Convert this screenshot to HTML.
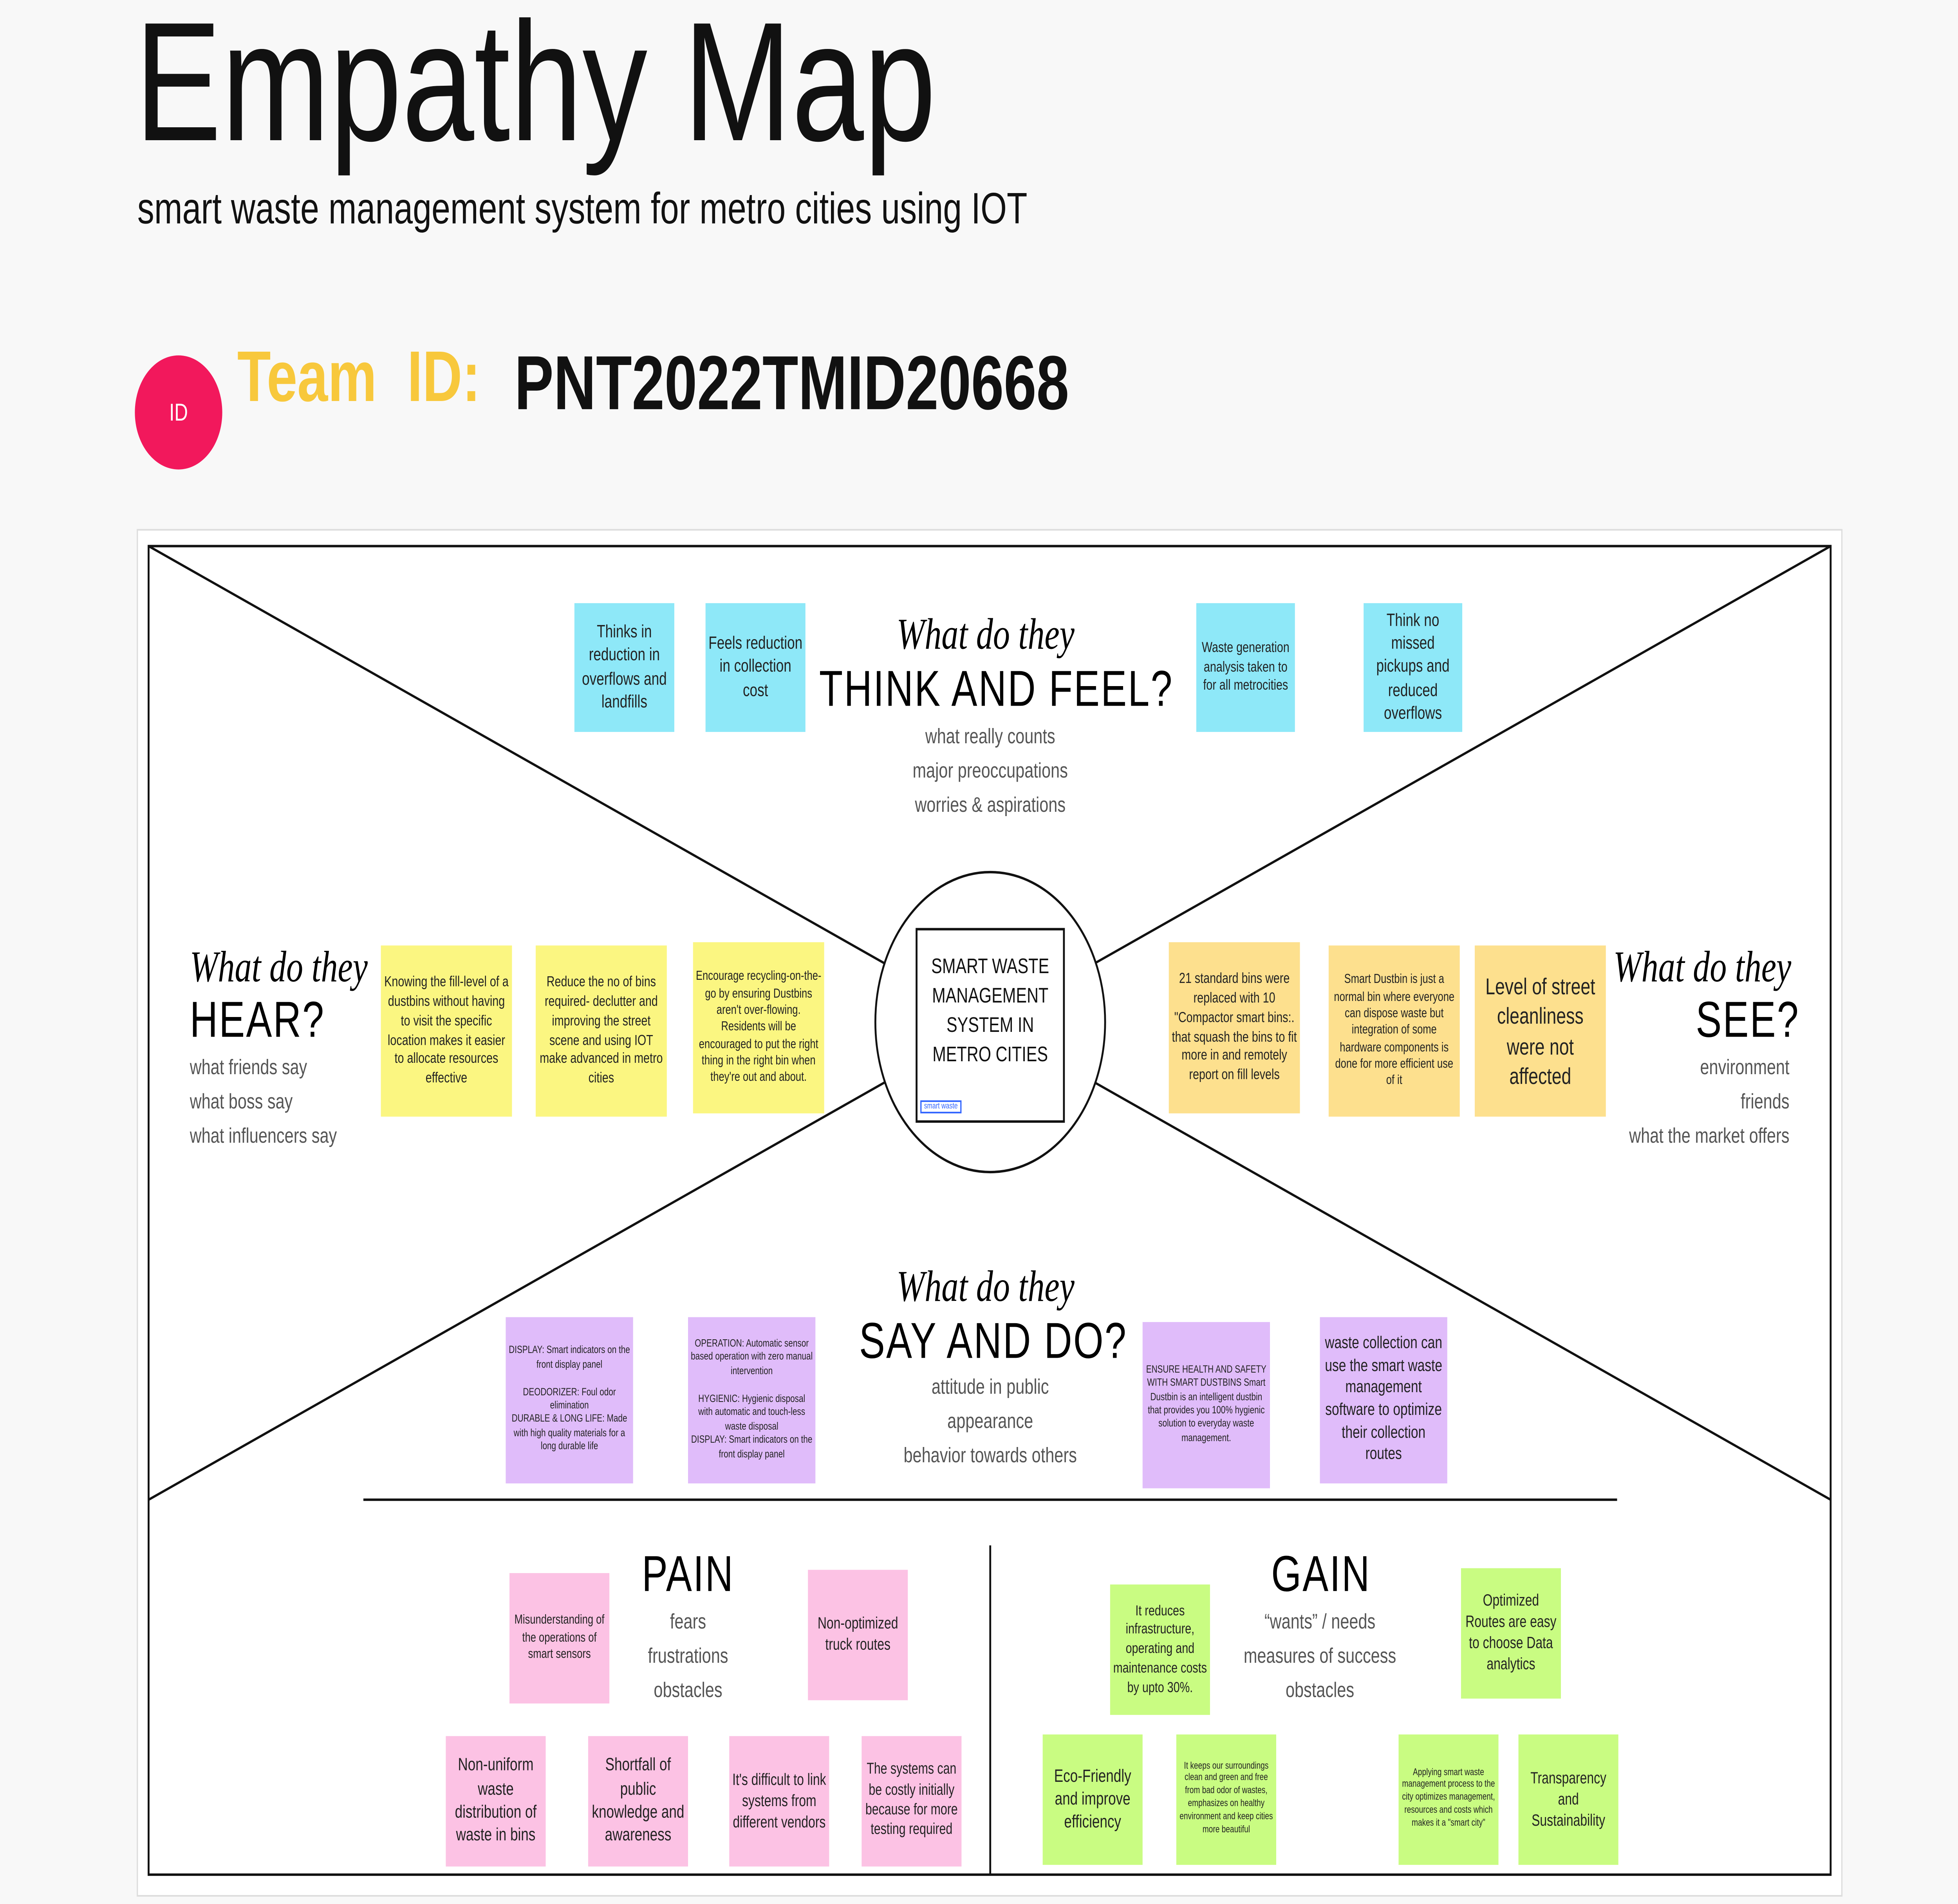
<!DOCTYPE html>
<html><head><meta charset="utf-8"><style>
html,body{margin:0;padding:0;width:100vw;height:100vh;overflow:hidden;background:#f8f8f8}
svg.root{position:absolute;left:0;top:0;display:block;width:100vw;height:100vh}
#s{position:relative;width:1568px;height:1168px;font-family:"Liberation Sans",sans-serif}
.a{position:absolute}
.n{position:absolute;display:flex;align-items:center;justify-content:center;text-align:center;color:#222;line-height:1.3;box-sizing:border-box;padding:2px}
.c{background:#8ee8f8}.y{background:#fbf681}.o{background:#fde08e}.p{background:#e0bcfa}.k{background:#fcc2e4}.g{background:#c9fc82}
.sc{font-family:"Liberation Serif",serif;font-style:italic;font-size:27px}
.h{font-size:31px;letter-spacing:1px}
.sub{color:#555;font-size:13px;line-height:21px}
</style></head><body>
<svg class="root" viewBox="0 0 1568 1168" preserveAspectRatio="none" xmlns="http://www.w3.org/2000/svg">
<rect x="0" y="0" width="1568" height="1168" fill="#f8f8f8"/>
<rect x="110" y="325" width="1365" height="838" fill="#fff" stroke="#ddd" stroke-width="1"/>
<rect x="119" y="335" width="1347" height="815" fill="none" stroke="#111" stroke-width="1.5"/>
<line x1="119" y1="335" x2="1466" y2="920" stroke="#111" stroke-width="1.5"/>
<line x1="1466" y1="335" x2="119" y2="920" stroke="#111" stroke-width="1.5"/>
<line x1="291" y1="920" x2="1295" y2="920" stroke="#111" stroke-width="1.5"/>
<line x1="793" y1="948" x2="793" y2="1150" stroke="#111" stroke-width="1.5"/>
<circle cx="793" cy="627" r="92" fill="#fff" stroke="#111" stroke-width="1.5"/>
<rect x="734" y="570" width="118" height="118" fill="#fff" stroke="#111" stroke-width="1.5"/>
<circle cx="143" cy="253" r="35" fill="#f2185c"/>
<foreignObject x="0" y="0" width="1568" height="1168">
<div xmlns="http://www.w3.org/1999/xhtml" id="s">
<div class="a" style="left:108px;top:-8px;font-size:104px;color:#111">Empathy Map</div>
<div class="a" style="left:110px;top:113px;font-size:27px;color:#111">smart waste management system for metro cities using IOT</div>
<div class="a" style="left:108px;top:218px;width:70px;height:70px;color:#fff;font-size:15px;display:flex;align-items:center;justify-content:center">ID</div>
<div class="a" style="left:190px;top:207px;font-size:44px;font-weight:bold;color:#f8c83c">Team&nbsp; ID:</div>
<div class="a" style="left:412px;top:207px;font-size:47px;font-weight:bold;color:#111">PNT2022TMID20668</div>

<div class="a" style="left:734px;top:584px;width:118px;text-align:center;font-size:13px;line-height:18px;color:#111">SMART WASTE MANAGEMENT SYSTEM IN METRO CITIES</div>
<div class="a" style="left:737px;top:675px;font-size:5px;border:1px solid #36f;color:#36f;padding:0 2px">smart waste</div>

<div class="a sc" style="left:718px;top:374px">What do they</div>
<div class="a h" style="left:656px;top:405px">THINK AND FEEL?</div>
<div class="a sub" style="left:693px;top:441px;width:200px;text-align:center">what really counts<br/>major preoccupations<br/>worries &amp; aspirations</div>

<div class="a sc" style="left:152px;top:578px">What do they</div>
<div class="a h" style="left:152px;top:608px">HEAR?</div>
<div class="a sub" style="left:152px;top:644px">what friends say<br/>what boss say<br/>what influencers say</div>

<div class="a sc" style="left:1292px;top:578px">What do they</div>
<div class="a h" style="left:1358px;top:608px">SEE?</div>
<div class="a sub" style="left:1233px;top:644px;width:200px;text-align:right">environment<br/>friends<br/>what the market offers</div>

<div class="a sc" style="left:718px;top:774px">What do they</div>
<div class="a h" style="left:688px;top:805px">SAY AND DO?</div>
<div class="a sub" style="left:693px;top:840px;width:200px;text-align:center">attitude in public<br/>appearance<br/>behavior towards others</div>

<div class="a h" style="left:514px;top:948px">PAIN</div>
<div class="a sub" style="left:491px;top:984px;width:120px;text-align:center">fears<br/>frustrations<br/>obstacles</div>
<div class="a h" style="left:1018px;top:948px">GAIN</div>
<div class="a sub" style="left:987px;top:984px;width:140px;text-align:center">“wants” / needs<br/>measures of success<br/>obstacles</div>

<div class="n c" style="left:460px;top:370px;width:80px;height:79px;font-size:11px">Thinks in reduction in overflows and landfills</div>
<div class="n c" style="left:565px;top:370px;width:80px;height:79px;font-size:11px">Feels reduction in collection cost</div>
<div class="n c" style="left:958px;top:370px;width:79px;height:79px;font-size:9px">Waste generation analysis taken to for all metrocities</div>
<div class="n c" style="left:1092px;top:370px;width:79px;height:79px;font-size:11px">Think no missed pickups and reduced overflows</div>

<div class="n y" style="left:305px;top:580px;width:105px;height:105px;font-size:9px">Knowing the fill-level of a dustbins without having to visit the specific location makes it easier to allocate resources effective</div>
<div class="n y" style="left:429px;top:580px;width:105px;height:105px;font-size:9px">Reduce the no of bins required- declutter and improving the street scene and using IOT make advanced in metro cities</div>
<div class="n y" style="left:555px;top:578px;width:105px;height:105px;font-size:8px">Encourage recycling-on-the-go by ensuring Dustbins aren't over-flowing. Residents will be encouraged to put the right thing in the right bin when they're out and about.</div>

<div class="n o" style="left:936px;top:578px;width:105px;height:105px;font-size:9px">21 standard bins were replaced with 10 "Compactor smart bins:. that squash the bins to fit more in and remotely report on fill levels</div>
<div class="n o" style="left:1064px;top:580px;width:105px;height:105px;font-size:8px">Smart Dustbin is just a normal bin where everyone can dispose waste but integration of some hardware components is done for more efficient use of it</div>
<div class="n o" style="left:1181px;top:580px;width:105px;height:105px;font-size:14px">Level of street cleanliness were not affected</div>

<div class="n p" style="left:405px;top:808px;width:102px;height:102px;font-size:6.5px">DISPLAY: Smart indicators on the front display panel<br/><br/>DEODORIZER: Foul odor elimination<br/>DURABLE &amp; LONG LIFE: Made with high quality materials for a long durable life</div>
<div class="n p" style="left:551px;top:808px;width:102px;height:102px;font-size:6.5px">OPERATION: Automatic sensor based operation with zero manual intervention<br/><br/>HYGIENIC: Hygienic disposal with automatic and touch-less waste disposal<br/>DISPLAY: Smart indicators on the front display panel</div>
<div class="n p" style="left:915px;top:811px;width:102px;height:102px;font-size:6.5px">ENSURE HEALTH AND SAFETY WITH SMART DUSTBINS Smart Dustbin is an intelligent dustbin that provides you 100% hygienic solution to everyday waste management.</div>
<div class="n p" style="left:1057px;top:808px;width:102px;height:102px;font-size:10.5px">waste collection can use the smart waste management software to optimize their collection routes</div>

<div class="n k" style="left:408px;top:965px;width:80px;height:80px;font-size:8px">Misunderstanding of the operations of smart sensors</div>
<div class="n k" style="left:647px;top:963px;width:80px;height:80px;font-size:10px">Non-optimized truck routes</div>
<div class="n k" style="left:357px;top:1065px;width:80px;height:80px;font-size:11px">Non-uniform waste distribution of waste in bins</div>
<div class="n k" style="left:471px;top:1065px;width:80px;height:80px;font-size:11px">Shortfall of public knowledge and awareness</div>
<div class="n k" style="left:584px;top:1065px;width:80px;height:80px;font-size:10px">It's difficult to link systems from different vendors</div>
<div class="n k" style="left:690px;top:1065px;width:80px;height:80px;font-size:9.5px">The systems can be costly initially because for more testing required</div>

<div class="n g" style="left:889px;top:972px;width:80px;height:80px;font-size:9px">It reduces infrastructure, operating and maintenance costs by upto 30%.</div>
<div class="n g" style="left:1170px;top:962px;width:80px;height:80px;font-size:10px">Optimized Routes are easy to choose Data analytics</div>
<div class="n g" style="left:835px;top:1064px;width:80px;height:80px;font-size:11px">Eco-Friendly and improve efficiency</div>
<div class="n g" style="left:942px;top:1064px;width:80px;height:80px;font-size:6px">It keeps our surroundings clean and green and free from bad odor of wastes, emphasizes on healthy environment and keep cities more beautiful</div>
<div class="n g" style="left:1120px;top:1064px;width:80px;height:80px;font-size:6px">Applying smart waste management process to the city optimizes management, resources and costs which makes it a "smart city"</div>
<div class="n g" style="left:1216px;top:1064px;width:80px;height:80px;font-size:10px">Transparency and Sustainability</div>
</div>
</foreignObject>
</svg>
</body></html>
